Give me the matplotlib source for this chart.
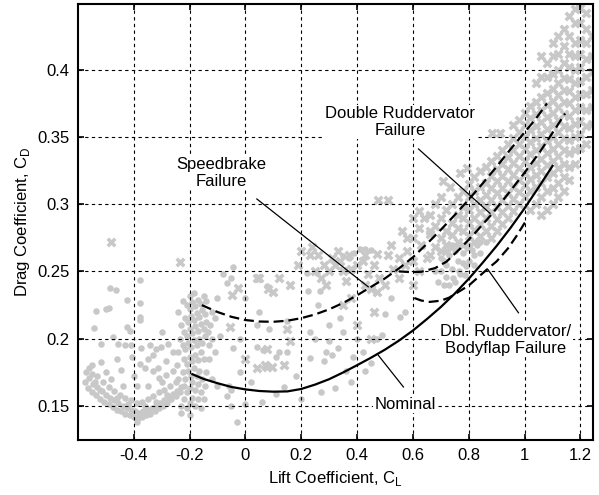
import matplotlib
matplotlib.use("Agg")
import matplotlib.pyplot as plt

plt.rcParams['font.family'] = ['Liberation Sans', 'DejaVu Sans']
plt.rcParams['mathtext.fontset'] = 'custom'
plt.rcParams['mathtext.rm'] = 'Liberation Sans'

# ---------------- curves ----------------
nominal_cl = [-0.19, -0.15, -0.1, -0.05, 0.0, 0.05, 0.1, 0.15, 0.2, 0.25, 0.3, 0.35, 0.4, 0.45, 0.5, 0.55,
              0.6, 0.65, 0.7, 0.75, 0.8, 0.85, 0.9, 0.95, 1.0, 1.05, 1.1]
nominal_cd = [0.1735, 0.170, 0.1668, 0.164, 0.1622, 0.161, 0.1605, 0.1607, 0.1625, 0.1658, 0.1698, 0.1748, 0.1802,
              0.1858, 0.1918, 0.1985, 0.206, 0.2145, 0.2235, 0.2335, 0.2445, 0.2565, 0.269, 0.2825, 0.297, 0.3125, 0.3285]

speed_cl = [-0.156, -0.1, -0.05, 0.0, 0.05, 0.1, 0.15, 0.2, 0.25, 0.3, 0.35, 0.4, 0.45, 0.5, 0.55, 0.6,
            0.65, 0.7, 0.75, 0.8, 0.85, 0.9, 0.95, 1.0, 1.04, 1.08]
speed_cd = [0.2249, 0.2198, 0.2162, 0.2138, 0.2127, 0.2125, 0.2133, 0.2152, 0.218, 0.2218, 0.2265, 0.2322, 0.2385,
            0.2448, 0.2522, 0.2605, 0.2705, 0.281, 0.292, 0.3035, 0.3155, 0.328, 0.341, 0.3535, 0.3635, 0.375]

dr_cl = [0.55, 0.59, 0.63, 0.68, 0.72, 0.77, 0.82, 0.88, 0.94, 1.0, 1.055, 1.115, 1.145]
dr_cd = [0.2500, 0.2495, 0.2497, 0.2525, 0.2572, 0.2671, 0.278, 0.292, 0.3075, 0.3235, 0.339, 0.3578, 0.3675]

bf_cl = [0.605, 0.63, 0.66, 0.7, 0.73, 0.8, 0.86, 0.9, 0.94, 0.97, 1.0, 1.01]
bf_cd = [0.2302, 0.2283, 0.2273, 0.2282, 0.2305, 0.2395, 0.2505, 0.2575, 0.267, 0.276, 0.286, 0.289]

# ---------------- scatter: dots ----------------
dots = [
    # left lower arc
    (-0.575,0.168),(-0.565,0.163),(-0.56,0.171),(-0.55,0.160),(-0.545,0.166),(-0.535,0.158),(-0.53,0.164),(-0.52,0.155),
    (-0.515,0.161),(-0.505,0.153),(-0.5,0.158),(-0.49,0.151),(-0.485,0.156),(-0.475,0.149),(-0.47,0.154),(-0.46,0.147),
    (-0.455,0.152),(-0.445,0.146),(-0.44,0.150),(-0.43,0.144),(-0.425,0.148),(-0.415,0.143),(-0.41,0.147),(-0.40,0.142),
    (-0.395,0.146),(-0.385,0.141),(-0.38,0.145),(-0.37,0.142),(-0.365,0.146),(-0.355,0.143),(-0.35,0.147),(-0.34,0.144),
    (-0.335,0.148),(-0.325,0.146),(-0.32,0.150),(-0.31,0.148),(-0.305,0.152),(-0.295,0.150),(-0.29,0.154),(-0.28,0.152),
    (-0.275,0.156),(-0.265,0.155),(-0.26,0.159),(-0.25,0.157),(-0.245,0.161),(-0.235,0.160),(-0.23,0.164),
    (-0.56,0.178),(-0.55,0.174),(-0.53,0.172),(-0.51,0.168),(-0.49,0.164),(-0.47,0.161),(-0.45,0.158),(-0.43,0.156),
    (-0.41,0.154),(-0.39,0.152),(-0.37,0.153),(-0.35,0.155),(-0.33,0.157),(-0.31,0.16),(-0.29,0.162),(-0.27,0.165),(-0.25,0.168),
    (-0.57,0.175),(-0.54,0.168),(-0.52,0.162),(-0.46,0.156),(-0.42,0.151),(-0.36,0.150),(-0.32,0.153),(-0.28,0.158),
    # left scattered
    (-0.551,0.180),(-0.516,0.1826),(-0.444,0.1765),(-0.406,0.186),(-0.378,0.181),(-0.36,0.178),(-0.313,0.178),(-0.283,0.183),
    (-0.31,0.171),(-0.283,0.173),(-0.516,0.1963),(-0.456,0.1963),(-0.43,0.195),(-0.41,0.195),(-0.373,0.193),(-0.342,0.195),
    (-0.319,0.192),(-0.301,0.194),(-0.277,0.196),(-0.474,0.2013),(-0.543,0.208),(-0.423,0.2085),(-0.415,0.2056),(-0.534,0.2204),
    (-0.50,0.222),(-0.49,0.223),(-0.378,0.216),(-0.378,0.2135),(-0.423,0.2286),(-0.378,0.2266),(-0.486,0.238),(-0.462,0.236),
    (-0.378,0.2435),(-0.39,0.138),(-0.35,0.185),(-0.33,0.188),(-0.46,0.185),(-0.50,0.175),(-0.39,0.165),(-0.35,0.165),
    (-0.30,0.168),(-0.44,0.165),(-0.48,0.170),(-0.40,0.172),(-0.33,0.176),(-0.26,0.176),(-0.26,0.19),(-0.3,0.205),
    # dense column near CL=-0.2
    (-0.23,0.15),(-0.22,0.155),(-0.21,0.148),(-0.2,0.152),(-0.19,0.156),(-0.18,0.15),(-0.17,0.155),(-0.22,0.165),(-0.21,0.16),
    (-0.2,0.163),(-0.19,0.168),(-0.18,0.162),(-0.17,0.166),(-0.16,0.16),(-0.225,0.175),(-0.215,0.17),(-0.205,0.176),(-0.195,0.172),
    (-0.185,0.178),(-0.175,0.172),(-0.165,0.176),(-0.155,0.17),(-0.22,0.185),(-0.21,0.181),(-0.2,0.186),(-0.19,0.183),(-0.18,0.188),
    (-0.17,0.184),(-0.16,0.19),(-0.15,0.185),(-0.225,0.195),(-0.215,0.192),(-0.205,0.197),(-0.195,0.194),(-0.185,0.199),(-0.175,0.195),
    (-0.165,0.2),(-0.155,0.197),(-0.145,0.202),(-0.22,0.205),(-0.21,0.202),(-0.2,0.207),(-0.19,0.204),(-0.18,0.209),(-0.17,0.206),
    (-0.16,0.211),(-0.15,0.207),(-0.14,0.212),(-0.215,0.215),(-0.205,0.212),(-0.195,0.217),(-0.185,0.214),(-0.175,0.219),(-0.165,0.216),
    (-0.155,0.221),(-0.145,0.218),(-0.21,0.225),(-0.2,0.222),(-0.19,0.227),(-0.18,0.224),(-0.17,0.229),(-0.16,0.226),(-0.2,0.232),
    (-0.185,0.234),(-0.24,0.17),(-0.245,0.18),(-0.24,0.19),(-0.235,0.2),(-0.23,0.21),(-0.24,0.22),(-0.13,0.195),(-0.135,0.205),
    (-0.125,0.21),(-0.13,0.185),(-0.14,0.175),(-0.145,0.165),(-0.15,0.155),(-0.16,0.148),(-0.2,0.143),(-0.23,0.145),
    (-0.12,0.2),(-0.12,0.22),(-0.14,0.228),(-0.15,0.232),(-0.11,0.19),(-0.225,0.228),
    # middle scattered
    (-0.12,0.17),(-0.1,0.1645),(-0.06,0.1645),(-0.067,0.157),(-0.05,0.162),(-0.05,0.15),(-0.03,0.138),(0.0,0.151),(0.06,0.153),
    (0.11,0.159),(0.14,0.164),(-0.09,0.202),(-0.043,0.193),(-0.02,0.2),(0.04,0.194),(0.11,0.1866),(0.041,0.21),(0.083,0.2075),
    (0.064,0.1914),(0.12,0.19),(0.15,0.19),(0.15,0.213),(0.232,0.1852),(0.28,0.183),(0.29,0.19),(0.31,0.188),(0.33,0.193),
    (0.387,0.1863),(0.42,0.19),(0.47,0.2),(0.49,0.203),(-0.043,0.2534),(-0.067,0.241),(-0.08,0.248),(-0.05,0.245),(0.077,0.239),
    (0.22,0.2485),(0.256,0.2485),(0.226,0.2355),(0.267,0.2355),(0.351,0.2618),(0.37,0.26),(0.39,0.264),(0.41,0.267),(0.43,0.267),
    (0.45,0.266),(0.23,0.205),(0.25,0.2),(0.3,0.21),(0.35,0.205),(0.4,0.2),(0.36,0.176),(0.45,0.182),(0.5,0.218),(0.554,0.216),
    (0.57,0.22),(0.52,0.23),(0.27,0.16),(0.32,0.163),(0.38,0.168),(0.2,0.155),(-0.02,0.175),(0.02,0.168),(0.18,0.172),(0.43,0.176),
    (-0.1,0.23),(-0.11,0.215),(0.0,0.23),(0.05,0.22),(0.26,0.225),(0.34,0.215),(0.3,0.198),
    # dense cluster near bodyflap minimum
    (0.70,0.250),(0.71,0.258),(0.72,0.246),(0.73,0.262),(0.74,0.252),(0.75,0.242),(0.76,0.258),(0.77,0.248),(0.78,0.264),
    (0.79,0.254),(0.8,0.258),(0.81,0.266),(0.82,0.262),(0.83,0.27),(0.84,0.264),(0.72,0.255),(0.745,0.245),(0.765,0.25),
    (0.785,0.247),(0.75,0.265),(0.8,0.27),(0.86,0.272),(0.69,0.242),(0.71,0.240),(0.73,0.240),(0.70,0.26),(0.74,0.27),
    (0.76,0.268),(0.78,0.256),(0.82,0.255),(0.84,0.272),(0.72,0.265),(0.68,0.25),
]

# ---------------- scatter: crosses ----------------
crosses = [
    (-0.48,0.272),(-0.235,0.257),
    (-0.026,0.238),(0.041,0.245),(0.08,0.237),(0.047,0.2448),(0.1,0.235),(-0.049,0.2323),(-0.055,0.2087),(0.0,0.185),
    (0.077,0.192),(0.077,0.179),(0.095,0.179),(0.04,0.178),(0.07,0.18),(0.14,0.18),(0.232,0.2622),(0.25,0.25),(0.27,0.245),
    (0.29,0.24),(0.3,0.25),(0.32,0.255),(0.35,0.25),(0.31,0.26),(0.33,0.265),(0.2,0.265),(0.24,0.268),(0.38,0.252),(0.4,0.255),
    (0.36,0.243),(0.43,0.24),(0.45,0.237),(0.47,0.235),(0.5,0.24),(0.48,0.245),(0.44,0.248),(0.42,0.258),(0.46,0.255),(0.55,0.245),
    (0.15,0.207),(0.16,0.198),(0.4,0.21),(0.45,0.2),(0.46,0.22),(0.35,0.225),(0.38,0.23),(0.476,0.303),(0.512,0.303),(0.43,0.262),
    (0.47,0.263),(0.51,0.262),(0.19,0.255),(0.12,0.245),(0.16,0.24),(0.52,0.27),(0.55,0.26),(0.58,0.265),(0.6,0.275),(0.62,0.282),
    (0.64,0.29),(0.6,0.258),(0.63,0.27),(0.66,0.28),(0.6,0.24),(0.62,0.25),(0.65,0.26),(0.56,0.28),(0.58,0.275),
    (0.62,0.295),(0.6,0.29),(0.709,0.317),(0.733,0.313),(0.769,0.323),(0.793,0.327),(0.883,0.353),(0.912,0.353),(0.96,0.359),
    (0.34,0.258),(0.37,0.262),(0.28,0.255),(0.26,0.262),(0.53,0.252),(0.57,0.255),
]

# upper-right dense band of crosses, column by column: lift coefficient -> drag values
band_cl = [0.66, 0.68, 0.70, 0.72, 0.74, 0.76, 0.78, 0.80, 0.82, 0.84, 0.86, 0.88, 0.90, 0.92, 0.94, 0.96, 0.98,
           1.00, 1.02, 1.04, 1.06, 1.08, 1.10, 1.12, 1.14, 1.16, 1.18, 1.20, 1.22, 1.24]
band_cd = [
    [0.262, 0.278, 0.292],
    [0.268, 0.284, 0.30],
    [0.265, 0.275, 0.29, 0.305],
    [0.27, 0.28, 0.296],
    [0.268, 0.277, 0.286, 0.30],
    [0.272, 0.282, 0.292, 0.305],
    [0.27, 0.28, 0.29, 0.298, 0.31],
    [0.268, 0.276, 0.286, 0.296, 0.305, 0.315],
    [0.272, 0.281, 0.29, 0.30, 0.31, 0.32],
    [0.276, 0.285, 0.294, 0.303, 0.313, 0.325],
    [0.28, 0.29, 0.298, 0.307, 0.316, 0.328],
    [0.275, 0.284, 0.294, 0.303, 0.312, 0.321, 0.332],
    [0.28, 0.289, 0.298, 0.308, 0.317, 0.326, 0.336],
    [0.285, 0.294, 0.303, 0.312, 0.321, 0.33, 0.34],
    [0.29, 0.299, 0.308, 0.317, 0.326, 0.335, 0.345],
    [0.295, 0.304, 0.313, 0.322, 0.331, 0.34, 0.349],
    [0.30, 0.309, 0.318, 0.327, 0.336, 0.345, 0.354, 0.363],
    [0.305, 0.314, 0.323, 0.332, 0.341, 0.35, 0.359, 0.368],
    [0.296, 0.31, 0.319, 0.328, 0.337, 0.346, 0.355, 0.364, 0.373],
    [0.30, 0.313, 0.322, 0.331, 0.34, 0.349, 0.358, 0.367, 0.376, 0.39],
    [0.292, 0.305, 0.316, 0.325, 0.334, 0.343, 0.352, 0.361, 0.37, 0.38, 0.395, 0.41],
    [0.296, 0.31, 0.32, 0.329, 0.338, 0.347, 0.356, 0.365, 0.374, 0.383, 0.395, 0.405],
    [0.30, 0.312, 0.323, 0.332, 0.341, 0.35, 0.359, 0.368, 0.377, 0.386, 0.397, 0.41, 0.42],
    [0.305, 0.316, 0.327, 0.336, 0.345, 0.354, 0.363, 0.372, 0.381, 0.39, 0.40, 0.412, 0.425],
    [0.31, 0.32, 0.33, 0.34, 0.349, 0.358, 0.367, 0.376, 0.385, 0.394, 0.405, 0.418, 0.43],
    [0.318, 0.328, 0.338, 0.348, 0.357, 0.366, 0.375, 0.384, 0.393, 0.402, 0.412, 0.425, 0.44],
    [0.33, 0.34, 0.35, 0.36, 0.37, 0.38, 0.39, 0.40, 0.41, 0.42, 0.435, 0.445],
    [0.342, 0.352, 0.362, 0.372, 0.382, 0.392, 0.402, 0.412, 0.422, 0.435, 0.446],
    [0.345, 0.358, 0.37, 0.382, 0.395, 0.408, 0.42, 0.43, 0.442],
    [0.36, 0.372, 0.385, 0.398, 0.41, 0.425],
]

xticks = [-0.4, -0.2, 0, 0.2, 0.4, 0.6, 0.8, 1, 1.2]
xticklabels = ['-0.4', '-0.2', '0', '0.2', '0.4', '0.6', '0.8', '1', '1.2']
yticks = [0.15, 0.2, 0.25, 0.3, 0.35, 0.4]
yticklabels = ['0.15', '0.2', '0.25', '0.3', '0.35', '0.4']

labels = ["Speedbrake\nFailure", "Double Ruddervator\nFailure", "Dbl. Ruddervator/\nBodyflap Failure", "Nominal"]
label_pos = [(-0.085, 0.3233), (0.554, 0.3613), (0.933, 0.1988), (0.572, 0.1511)]
leaders = [((0.041, 0.3039), (0.44, 0.2385)),
           ((0.62, 0.3411), (0.876, 0.2932)),
           ((0.978, 0.2192), (0.870, 0.251)),
           ((0.566, 0.164), (0.476, 0.1876))]

fig = plt.figure(figsize=(5.99, 4.95), dpi=100)
ax = fig.add_axes([0.130, 0.111, 0.860, 0.881])

gray = '#c8c8c8'
dx, dy = zip(*dots)
ax.scatter(dx, dy, s=22, c=gray, marker='o', linewidths=0, zorder=1)
cx, cy = zip(*crosses)
bx = [c for c, col in zip(band_cl, band_cd) for _ in col]
by = [v for col in band_cd for v in col]
ax.scatter(list(cx) + bx, list(cy) + by, s=52, c=gray, marker='X', linewidths=0, zorder=1)

ax.plot(nominal_cl, nominal_cd, color='k', lw=1.6, zorder=3)
for xs, ys in [(speed_cl, speed_cd), (dr_cl, dr_cd), (bf_cl, bf_cd)]:
    ax.plot(xs, ys, color='k', lw=1.6, dashes=(4.5, 2.2), zorder=3)

for (p0, p1) in leaders:
    ax.plot([p0[0], p1[0]], [p0[1], p1[1]], color='k', lw=0.9, zorder=4)
for t, (x, y) in zip(labels, label_pos):
    ax.text(x, y, t, ha='center', va='center', fontsize=12, zorder=5,
            linespacing=1.15, bbox=dict(facecolor='white', edgecolor='none', pad=1.0))

ax.set_xlim(-0.6, 1.245)
ax.set_ylim(0.1245, 0.449)
ax.set_xticks(xticks)
ax.set_xticklabels(xticklabels)
ax.set_yticks(yticks)
ax.set_yticklabels(yticklabels)
ax.tick_params(direction='in', length=4, width=1.2, labelsize=12, top=True, right=True, pad=6)
ax.set_axisbelow(False)
ax.grid(True, color='k', linestyle=(0, (3, 3)), linewidth=0.8)
for sp in ax.spines.values():
    sp.set_linewidth(1.5)
    sp.set_zorder(6)

ax.set_xlabel(r'Lift Coefficient, C$_\mathrm{L}$', fontsize=12, labelpad=4)
ax.set_ylabel(r'Drag Coefficient, C$_\mathrm{D}$', fontsize=12, labelpad=4)

fig.savefig('out.png', dpi=100)
